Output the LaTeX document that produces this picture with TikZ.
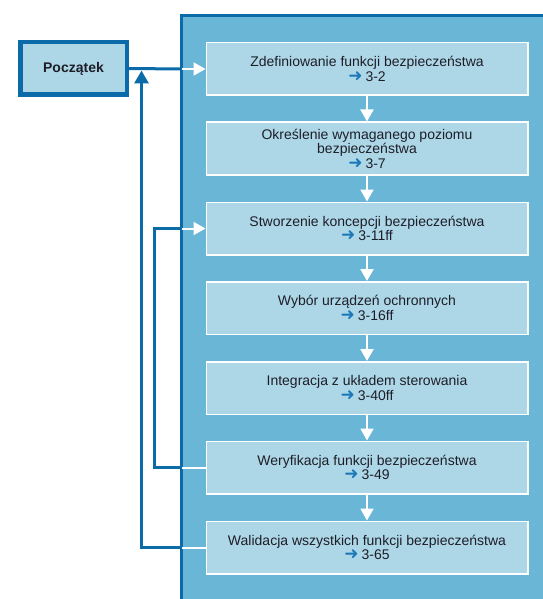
\documentclass[tikz,border=0pt]{standalone}
\usepackage{fontspec}
\setmainfont{Liberation Sans}
\newfontfamily\symfont{DejaVu Sans}
\usetikzlibrary{arrows.meta}

\definecolor{darkblue}{HTML}{0A6BA8}
\definecolor{arrowblue}{HTML}{1C78B8}
\definecolor{panelblue}{HTML}{6AB6D6}
\definecolor{boxblue}{HTML}{ADD7E7}
\definecolor{textdark}{HTML}{1E1E28}

\newcommand{\pref}[1]{{\color{arrowblue}\symfont\fontsize{17}{14.5}\selectfont\char"279C}\hspace{3pt}#1}

\tikzset{
  stepbox/.style={draw=white, line width=1.5pt, fill=boxblue, text=textdark,
    minimum width=321.5pt, minimum height=52.5pt, inner sep=0pt, align=center,
    font=\fontsize{14}{14.5}\selectfont},
  startbox/.style={draw=darkblue, line width=4.5pt, fill=boxblue, text=textdark,
    minimum width=106.5pt, minimum height=52.5pt, inner sep=0pt,
    font=\fontsize{14}{14.5}\selectfont\bfseries},
  blueline/.style={darkblue, line width=3pt},
  whiteline/.style={white, line width=2pt},
  whitetip/.style={-{Triangle[width=13pt,length=12pt]}},
  bluetip/.style={-{Triangle[width=14pt,length=13pt]}}
}

\begin{document}
\begin{tikzpicture}[x=1pt,y=-1pt]
\useasboundingbox (0,0) rectangle (542,599);

% Draw the panel behind the steps
\fill[panelblue] (181.5,15.5) rectangle (560,620);
\draw[darkblue, line width=3.5pt] (181.5,620) -- (181.5,15.5) -- (560,15.5);
\coordinate (edge) at (181.5,0);
\coordinate (loop) at (154,0);
\coordinate (up1) at (141.5,70.5);

% Draw the start box
\node[startbox] (start) at (73.5,68.5) {Początek};

% Draw the steps
\node[stepbox] (s1) at (367,69) {Zdefiniowanie funkcji bezpieczeństwa\\\pref{3-2}};
\node[stepbox] (s2) at (367,148.5) {Określenie wymaganego poziomu\\bezpieczeństwa\\\pref{3-7}};
\node[stepbox] (s3) at (367,228.5) {Stworzenie koncepcji bezpieczeństwa\\\pref{3-11ff}};
\node[stepbox] (s4) at (367,308) {Wybór urządzeń ochronnych\\\pref{3-16ff}};
\node[stepbox] (s5) at (367,388) {Integracja z układem sterowania\\\pref{3-40ff}};
\node[stepbox] (s6) at (367,467.5) {Weryfikacja funkcji bezpieczeństwa\\\pref{3-49}};
\node[stepbox] (s7) at (367,547.5) {Walidacja wszystkich funkcji bezpieczeństwa\\\pref{3-65}};

% Draw the arrows between the steps
\draw[whiteline, whitetip] (s1.south) -- (s2.north);
\draw[whiteline, whitetip] (s2.south) -- (s3.north);
\draw[whiteline, whitetip] (s3.south) -- (s4.north);
\draw[whiteline, whitetip] (s4.south) -- (s5.north);
\draw[whiteline, whitetip] (s5.south) -- (s6.north);
\draw[whiteline, whitetip] (s6.south) -- (s7.north);

% Draw the line from the start into the first step
\draw[blueline] (start.east) -- (s1.west -| edge);
\draw[whiteline, whitetip] (s1.west -| edge) -- (s1.west);

% Draw the loop from the validation back to the start
\draw[whiteline] (s7.west) -- (s7.west -| edge);
\draw[blueline, bluetip] (s7.west -| edge) -| (up1);

% Draw the loop from the verification back to the concept
\draw[whiteline] (s6.west) -- (s6.west -| edge);
\draw[blueline] (s6.west -| edge) -| (s3.west -| loop) -- (s3.west -| edge);
\draw[whiteline, whitetip] (s3.west -| edge) -- (s3.west);

\end{tikzpicture}
\end{document}
